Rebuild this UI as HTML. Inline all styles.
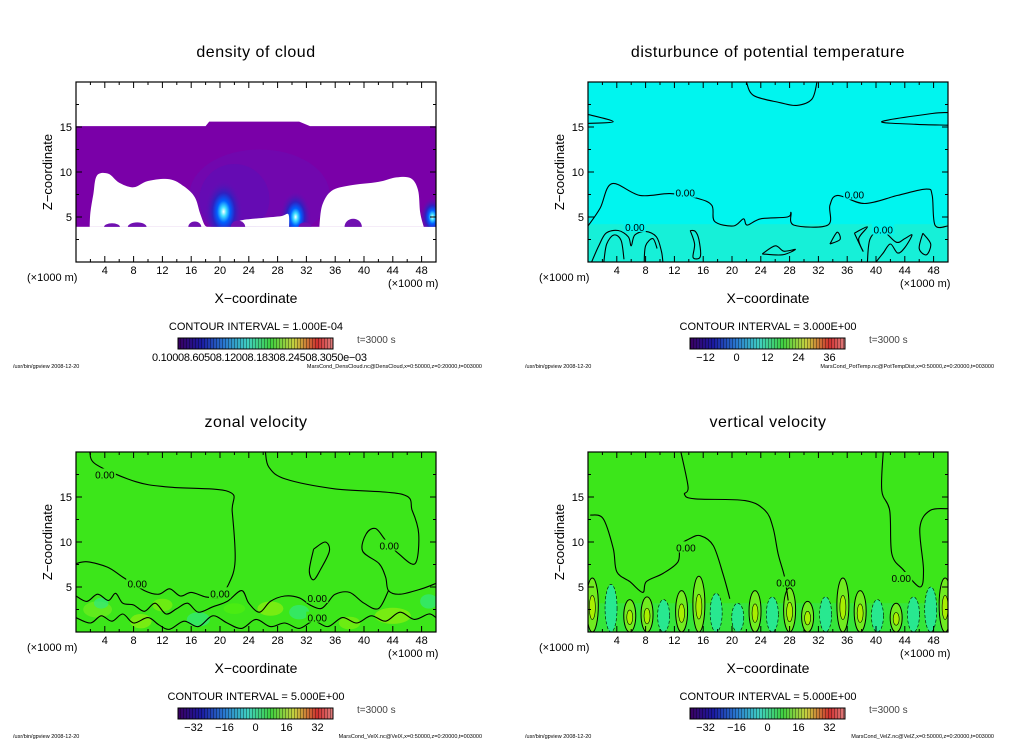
<!DOCTYPE html>
<html><head><meta charset="utf-8">
<style>
html,body{margin:0;padding:0;background:#fff;}
svg{display:block;font-family:"Liberation Sans",sans-serif;}
</style></head>
<body>
<svg id="fig" width="1024" height="740" viewBox="0 0 1024 740" xmlns="http://www.w3.org/2000/svg">
<defs>
<linearGradient id="cbar" x1="0" x2="1" y1="0" y2="0">
<stop offset="0" stop-color="#3a0060"/><stop offset="0.15" stop-color="#1a1aa0"/>
<stop offset="0.3" stop-color="#2a7ad0"/><stop offset="0.45" stop-color="#40d0c0"/>
<stop offset="0.6" stop-color="#40d040"/><stop offset="0.75" stop-color="#c8d040"/>
<stop offset="0.9" stop-color="#d03030"/><stop offset="1" stop-color="#e08080"/>
</linearGradient>
<pattern id="stripes" width="3" height="10" patternUnits="userSpaceOnUse">
<rect x="0" y="0" width="1" height="10" fill="rgba(0,0,0,0.35)"/>
</pattern>
<radialGradient id="blueblob"><stop offset="0" stop-color="#ffffff"/><stop offset="0.15" stop-color="#40e0ff"/><stop offset="0.35" stop-color="#0060ff"/><stop offset="0.6" stop-color="#3020c0"/><stop offset="1" stop-color="#6010b0" stop-opacity="0"/></radialGradient>
</defs>
<g id="root"></g>
</svg>
<script>
// ---- data ----
const xTicks = [4,8,12,16,20,24,28,32,36,40,44,48];
const zTicks = [5,10,15];
const titles = ["density of cloud","disturbunce of potential temperature","zonal velocity","vertical velocity"];
const intervals = ["CONTOUR INTERVAL = 1.000E-04","CONTOUR INTERVAL = 3.000E+00","CONTOUR INTERVAL = 5.000E+00","CONTOUR INTERVAL = 5.000E+00"];
const footers = ["MarsCond_DensCloud.nc@DensCloud,x=0:50000,z=0:20000,t=003000","MarsCond_PotTemp.nc@PotTempDist,x=0:50000,z=0:20000,t=003000","MarsCond_VelX.nc@VelX,x=0:50000,z=0:20000,t=003000","MarsCond_VelZ.nc@VelZ,x=0:50000,z=0:20000,t=003000"];
const cbarLabels = [[],[-12,0,12,24,36],[-32,-16,0,16,32],[-32,-16,0,16,32]];
const cbarMin = [0,-18,-40,-40], cbarMax = [1,42,40,40];

// cloud field boundaries (x km, z km)
const cloudTop = [[0,15.1],[18,15.1],[18.5,15.6],[31,15.6],[32.5,15.1],[50,15.1]];
const cloudBase = 3.9;
const hole1 = [[1.9,3.9],[2.0,5.5],[2.4,7.5],[2.9,9.6],[4.5,9.8],[6,8.8],[8,8.3],[10,9.0],[13,9.2],[15,8.4],[16.5,7.2],[17.2,5.5],[17.8,4.2],[18.2,3.9]];
const hole2 = [[22.2,3.9],[22.8,4.6],[26,4.9],[28.5,5.1],[29.5,5.3],[29.6,3.9]];
const hole3 = [[33.8,3.9],[34.2,6.3],[35.5,7.9],[38,8.5],[42,8.9],[44.5,9.4],[46.5,9.3],[47.5,8.0],[47.8,5.5],[48.3,3.9]];
const cloudBlobs = [[5,3.9,1.1,0.4],[8.5,3.9,1.3,0.5],[16.5,3.9,0.9,0.6],[22.5,3.9,1.0,0.7],[31.8,3.9,0.9,0.5],[38.5,3.9,1.2,0.9]];
const coreX = [20.5,30.5,49.5], coreZ = [5.6,5.0,5.0], coreR = [2.6,2.1,1.6];

// potential temperature contours
const ptMain = [[0,4.0],[1.7,6.0],[3.3,8.7],[7.2,7.4],[11.4,7.6],[15.1,7.1],[17.2,6.3],[17.6,4.5],[20.2,4.0],[21.6,4.8],[22.1,4.1],[24,4.8],[27.7,5.0],[28.2,5.5],[28.6,4.1],[33.3,4.1],[33.6,6.3],[34.7,7.4],[38.4,6.5],[43,7.4],[47,8.1],[47.8,7.4],[48.2,4.1],[50,4.0]];
const ptTop = [[22,20],[23,18.5],[26.7,17.7],[29,17.4],[31.1,18.1],[31.8,20]];
const ptLeft = [[0,16.4],[3.5,15.6],[0,15.4]];
const ptRight = [[50,16.6],[47.8,16.5],[40.8,15.6],[45.5,15.3],[50,15.2]];
const ptLoops = [
 [[0.5,0],[1.5,1.8],[2.5,3.2],[4.2,3.5],[5.6,2.8],[6,1.8],[6.5,3.0],[8,3.4],[9.5,2.8],[10.2,1.2],[10.4,0]],
 [[2.2,0],[2.6,2],[3.6,3],[4.6,2.4],[5,0.3]],
 [[7.8,0],[8,1.8],[9,2.6],[9.6,1.5]],
 [[14.2,3.5],[14.8,2.0],[14.6,0.5],[15.6,0.6],[15.4,2.5],[14.9,3.4],[14.2,3.5]],
 [[24.2,0.9],[26,1.8],[27.2,1.2],[28.8,1.4],[27,0.8],[24.2,0.9]],
 [[33.6,2.0],[34.6,3.3],[35.0,2.5],[33.6,2.0]],
 [[37,3.2],[38.8,3.9],[37.6,2.6],[38.2,1.2],[37,3.2]],
 [[38.8,0],[39.2,2.6],[40.8,3.5],[42.8,2.2],[44,2.6],[45,3.0],[44,1.6],[43,1.0],[42,2.0],[41,1.0],[40,0]],
 [[46.5,3.2],[47.6,2.0],[47,0.8],[46,1.5],[46.5,3.2]]
];

// zonal velocity contours
const uA = [[1.9,20],[2.8,18.6],[8.3,16.7],[12.9,16.1],[21.2,15.6],[21.7,13.4],[22.1,7.9],[21.2,5.3],[19.8,3.8]];
const uB = [[26.3,20],[26.8,18.3],[29.1,17.0],[36,15.9],[45.3,15.3],[46.7,13.5],[47.6,10.9],[47.1,7.6],[44.8,8.7],[43,10.2],[41.6,11.5],[40.3,10.9],[39.8,9.0],[42.1,7.6],[43,6.1],[43.4,4.6],[45,4.2],[48,4.8],[50,5.4]];
const uC = [[0,7.6],[1.6,7.8],[4.4,7.2],[6.5,6.1],[9.5,4.6],[11.5,4.2],[13,4.8],[14.5,4.0],[16,4.4],[18,3.9],[19.8,3.8]];
const uD = [[33,9.2],[34.6,10.0],[35.2,9.0],[34,7.0],[33,5.8],[32.4,6.8],[33,9.2]];
const uLow1 = [[0,4.0],[1.5,3.4],[3,4.2],[4.5,3.5],[5.5,4.3],[6.5,3.2],[8,3.0],[9.5,2.3],[11,3.2],[12.5,2.0],[14,2.6],[15.5,3.2],[17,2.2],[19,2.8],[21,3.4],[23,4.6],[24,3.2],[25.5,2.2],[27,3.4],[29,4.0],[31,3.8],[32.5,3.0],[34,2.6],[35,3.3],[36,4.2],[38,4.4],[40,3.2],[42,2.6],[43.4,4.6]];
const uLow2 = [[0,1.6],[2,1.0],[3.5,1.8],[5,1.2],[6.5,2.0],[8,1.0],[10,1.6],[11.5,0.8],[13,0.3],[15,1.2],[17,0.6],[19,1.8],[21,1.0],[23,0.4],[25,1.4],[27,0.6],[29,1.0],[31,0.4],[33,1.2],[35,0.6],[37,1.6],[39,1.0],[41,1.8],[43,1.2],[45,2.2],[47,1.4],[49,2.0],[50,1.6]];
const uPatches = [[3,2.5,2,0.9,"#70ec20"],[9,1.2,1.5,0.8,"#90ee10"],[12,3.0,1.4,0.7,"#80ee10"],[17,1.4,1.6,0.8,"#30e880"],[27,2.6,1.8,0.8,"#90ee10"],[31,2.2,1.4,0.8,"#30e880"],[3.5,3.2,1,0.6,"#30e880"],[44,1.8,2.5,0.9,"#90ee10"],[49,3.4,1.2,0.8,"#30e880"],[38,1.0,1.5,0.7,"#80ee10"],[22,2.6,1.5,0.6,"#50ee10"]];

// vertical velocity contours
const wA = [[12.9,20],[13.9,16.1],[13.4,15.3],[14.8,14.8],[21.8,14.6],[24.6,13.5],[25.7,11.6],[26.4,8.7],[27.3,6.1],[27.8,3.5]];
const wB = [[0.3,13.0],[2.1,12.6],[3.5,9.3],[4.0,6.7],[5.8,5.6],[7.6,4.4],[8.1,5.6],[10.4,6.5],[12.5,7.8],[12.8,9.6],[14.2,10.4],[15.6,10.7],[17.4,9.6],[18.8,6.3],[19.7,3.7]];
const wC = [[41,20],[40.8,15.7],[41.9,13.5],[42.2,8.7],[43.8,6.9],[46.1,5.0],[46.6,6.9],[46.1,11.6],[47.5,13.5],[50,13.7]];
const wColX = [0.6,3.2,5.8,8.2,10.5,13.0,15.4,17.8,20.8,23.2,25.6,28.0,30.5,33.0,35.4,37.8,40.2,42.8,45.2,47.6,49.6];
const wColH = [6.0,5.3,3.6,3.9,3.6,4.6,6.2,4.3,3.2,4.6,3.9,4.9,3.4,3.9,6.0,4.6,3.6,3.2,3.9,5.0,6.0];
const wColS = [1,-1,1,1,-1,1,1,-1,-1,1,-1,1,1,-1,1,1,-1,1,-1,-1,1];

// ---- drawing ----
const NS = "http://www.w3.org/2000/svg";
const root = document.getElementById("root");
function mk(tag, attrs, parent){const e=document.createElementNS(NS,tag);for(const k in attrs)e.setAttribute(k,attrs[k]);(parent||root).appendChild(e);return e;}

const W=360,H=180;
function axes(ox,oy){return {x:v=>ox+v*W/50, z:v=>oy+H-v*H/20};}
function ptsStr(a,arr){return arr.map(p=>a.x(p[0]).toFixed(1)+","+a.z(p[1]).toFixed(1)).join(" ");}
function smoothPath(a,arr,close){
  const P=arr.map(p=>[a.x(p[0]),a.z(p[1])]);
  let d="M"+P[0][0].toFixed(1)+","+P[0][1].toFixed(1);
  for(let i=0;i<P.length-1;i++){
    const p0=P[i-1]||P[i],p1=P[i],p2=P[i+1],p3=P[i+2]||p2;
    const c1=[p1[0]+(p2[0]-p0[0])/6,p1[1]+(p2[1]-p0[1])/6],c2=[p2[0]-(p3[0]-p1[0])/6,p2[1]-(p3[1]-p1[1])/6];
    d+=" C"+c1.map(v=>v.toFixed(1)).join(",")+" "+c2.map(v=>v.toFixed(1)).join(",")+" "+p2[0].toFixed(1)+","+p2[1].toFixed(1);
  }
  return d+(close?"Z":"");
}

const panels=[[76,82],[588,82],[76,452],[588,452]];
panels.forEach((pp,i)=>{
  const ox=pp[0],oy=pp[1],a=axes(ox,oy);
  const g=mk("g",{});
  
  
  const cx=ox+180, dx=(i%2)*512, dy=oy-82;
  const clip=mk("clipPath",{id:"clip"+i},g); mk("rect",{x:ox,y:oy,width:W,height:H},clip);
  const field=mk("g",{"clip-path":"url(#clip"+i+")"},g);
  
  

  if(i===0){
    const top=cloudTop.concat([[50,cloudBase],[0,cloudBase]]);
    const c=mk("polygon",{points:ptsStr(a,top),fill:"#7a00a8"},field);
    
    
    mk("ellipse",{cx:a.x(25.5),cy:a.z(7.5),rx:70,ry:45,fill:"#6a0cb2",opacity:0.6},field);
    mk("ellipse",{cx:a.x(22),cy:a.z(7),rx:35,ry:35,fill:"#5a10b8",opacity:0.5},field);
    coreX.forEach((x,k)=>{
      const e=mk("ellipse",{cx:a.x(x),cy:a.z(coreZ[k]),rx:coreR[k]*7.2,ry:coreR[k]*12,fill:"url(#blueblob)"},field);
      
      
    });
    [hole1,hole2,hole3].forEach(h=>{
      const p=mk("path",{d:smoothPath(a,h,true),fill:"#fff"},field);
      
      
    });
    cloudBlobs.forEach(b=>{
      const e=mk("ellipse",{cx:a.x(b[0]),cy:a.z(b[1]),rx:b[2]*7.2,ry:b[3]*9,fill:"#7010b0"},field);
      
      
    });
    mk("rect",{x:ox,y:a.z(cloudBase),width:W,height:H,fill:"#fff"},field);
  } else if(i===1){
    mk("rect",{x:ox,y:oy,width:W,height:H,fill:"#00f5ef"},field);
    mk("rect",{x:ox,y:a.z(4.2),width:W,height:a.z(0)-a.z(4.2),fill:"#16f0d8"},field);
    [ptMain,ptTop,ptLeft,ptRight].concat(ptLoops).forEach(l=>{
      const p=mk("path",{d:smoothPath(a,l,false),fill:"none",stroke:"#000","stroke-width":1.1},field);
      
      
    });
  } else if(i===2){
    mk("rect",{x:ox,y:oy,width:W,height:H,fill:"#3ce61a"},field);
    uPatches.forEach(q=>{
      const e=mk("ellipse",{cx:a.x(q[0]),cy:a.z(q[1]),rx:q[2]*7.2,ry:q[3]*9,fill:q[4],opacity:0.7},field);
      
      
    });
    [uA,uB,uC,uD,uLow1,uLow2].forEach(l=>{
      const p=mk("path",{d:smoothPath(a,l,false),fill:"none",stroke:"#000","stroke-width":1.1},field);
      
      
    });
  } else {
    mk("rect",{x:ox,y:oy,width:W,height:H,fill:"#3ce61a"},field);
    mk("rect",{x:ox,y:a.z(3.2),width:W,height:a.z(0)-a.z(3.2),fill:"#30e650",opacity:0.6},field);
    wColX.forEach((x,k)=>{
      const e=mk("ellipse",{cx:a.x(x),cy:a.z(wColH[k]/2),rx:6,ry:wColH[k]*4.5,fill:wColS[k]>0?"#70ec20":"#28e890",stroke:"#000","stroke-width":wColS[k]>0?1:0.6,"stroke-dasharray":wColS[k]>0?"none":"3,2"},field);
      
      
      if(wColS[k]>0){
        const c2=mk("ellipse",{cx:a.x(x),cy:a.z(wColH[k]/2.2),rx:3,ry:wColH[k]*2,fill:"#a8f000",stroke:"#000","stroke-width":0.6},field);
        
        
      }
    });
    [wA,wB,wC].forEach(l=>{
      const p=mk("path",{d:smoothPath(a,l,false),fill:"none",stroke:"#000","stroke-width":1.1},field);
      
      
    });
  }
  const fr=mk("rect",{x:ox,y:oy,width:W,height:H,fill:"none",stroke:"#000","stroke-width":1.2},g);
  
  
  // ticks
  for(let v=2;v<50;v+=2){
    const L=(v%4===0)?6:3;
    mk("line",{x1:a.x(v),x2:a.x(v),y1:oy+H,y2:oy+H-L,stroke:"#000"},g);
    mk("line",{x1:a.x(v),x2:a.x(v),y1:oy,y2:oy+L,stroke:"#000"},g);
  }
  for(let v=2.5;v<20;v+=2.5){
    const L=(v%5===0)?6:3;
    mk("line",{y1:a.z(v),y2:a.z(v),x1:ox,x2:ox+L,stroke:"#000"},g);
    mk("line",{y1:a.z(v),y2:a.z(v),x1:ox+W,x2:ox+W-L,stroke:"#000"},g);
  }
  xTicks.forEach(v=>{
    const t=mk("text",{x:a.x(v),y:oy+H+12,"font-size":11,"text-anchor":"middle"},g);t.textContent=v;
    
    
  });
  zTicks.forEach(v=>{
    const t=mk("text",{x:ox-4,y:a.z(v)+4,"font-size":11,"text-anchor":"end"},g);t.textContent=v;
    
    
  });
  let t;
  t=mk("text",{x:cx,y:oy-25,"font-size":16,"text-anchor":"middle","letter-spacing":"0.5"},g);t.textContent=titles[i];
  
  
  const zx=ox-24;
  t=mk("text",{x:zx,y:oy+90,"font-size":13,"text-anchor":"middle",transform:"rotate(-90 "+zx+" "+(oy+90)+")"},g);t.textContent="Z−coordinate";
  
  
  t=mk("text",{x:27+dx,y:281+dy,"font-size":11},g);t.textContent="(×1000 m)";
  
  
  t=mk("text",{x:388+dx,y:287+dy,"font-size":11},g);t.textContent="(×1000 m)";
  
  
  t=mk("text",{x:256+dx,y:303+dy,"font-size":14,"text-anchor":"middle"},g);t.textContent="X−coordinate";
  
  
  t=mk("text",{x:256+dx,y:330+dy,"font-size":11,"text-anchor":"middle"},g);t.textContent=intervals[i];
  
  
  const cb=mk("rect",{x:178+dx,y:338+dy,width:155,height:11,fill:"url(#cbar)",stroke:"#000","stroke-width":1},g);
  
  
  mk("rect",{x:178+dx,y:338+dy,width:155,height:11,fill:"url(#stripes)"},g);
  t=mk("text",{x:357+dx,y:343+dy,"font-size":10,fill:"#444"},g);t.textContent="t=3000 s";
  
  
  if(i===0){
    t=mk("text",{x:152,y:361,"font-size":11,"letter-spacing":"-0.3"},g);t.textContent="0.10008.60508.12008.18308.24508.3050e−03";
    
    
  } else {
    cbarLabels[i].forEach(v=>{
      const x=178+dx+(v-cbarMin[i])/(cbarMax[i]-cbarMin[i])*155;
      const tt=mk("text",{x:x,y:361+dy,"font-size":11,"text-anchor":"middle"},g);tt.textContent=(v<0?"−"+(-v):v);
      
      
    });
  }
  t=mk("text",{x:13+dx,y:368+dy,"font-size":5.5},g);t.textContent="/usr/bin/gpview   2008-12-20";
  
  
  t=mk("text",{x:482+dx,y:368+dy,"font-size":5.5,"text-anchor":"end"},g);t.textContent=footers[i];
  
  
});
// contour labels
[[1,13.5,7.7],[1,37,7.5],[1,6.5,3.9],[1,41,3.6],[2,4,17.5],[2,8.5,5.4],[2,20,4.3],[2,33.5,3.8],[2,33.5,1.6],[2,43.5,9.6],[3,13.6,9.4],[3,27.5,5.5],[3,43.5,6.0]].forEach(l=>{
  const a=axes(panels[l[0]][0],panels[l[0]][1]);
  mk("rect",{x:a.x(l[1])-11,y:a.z(l[2])-6,width:22,height:11,fill:l[0]===1?"#00f5ef":"#3ce61a"});
  const t=mk("text",{x:a.x(l[1]),y:a.z(l[2])+4,"font-size":10,"text-anchor":"middle"});t.textContent="0.00";
  
  
});
</script>
</body></html>
